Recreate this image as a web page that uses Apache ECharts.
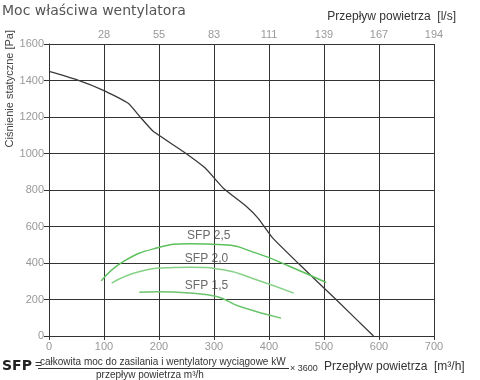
<!DOCTYPE html>
<html><head><meta charset="utf-8">
<script src="https://cdn.jsdelivr.net/npm/echarts@6/dist/echarts.min.js"></script>
<style>html,body{margin:0;padding:0;background:#fff}#c{width:480px;height:380px}</style>
</head><body><div id="c"></div>
<script>
// Data (x: m³/h, y: Pa)
const fanQ = [0, 50, 100, 144, 165, 190, 244, 284, 317, 359, 380, 407, 456, 520, 590];
const fanP = [1450, 1405, 1345, 1275, 1203, 1120, 1011, 920, 810, 710, 646, 536, 390, 205, 0];
const sfp25Q = [95, 135, 196, 256, 317, 377, 438, 504];
const sfp25P = [302, 408, 482, 505, 500, 454, 381, 293];
const sfp20Q = [114, 165, 226, 256, 317, 377, 445];
const sfp20P = [290, 353, 375, 377, 363, 308, 235];
const sfp15Q = [164, 196, 256, 305, 347, 422];
const sfp15P = [240, 242, 235, 216, 162, 98];
const sfpNames = ['SFP 2,5', 'SFP 2,0', 'SFP 1,5'];
const sfpLabelQ = [251, 247, 247];
const sfpLabelP = [551, 421, 277];
const topTickLabels = ['', '28', '55', '83', '111', '139', '167', '194'];

const zip = (a, b) => a.map((v, i) => [v, b[i]]);
const F = '"Liberation Sans Narrow","Liberation Sans",Arial,sans-serif';
const chart = echarts.init(document.getElementById('c'));
chart.setOption({
  animation: false,
  grid: { left: 49, right: 46, top: 44, bottom: 44 },
  xAxis: [{
    type: 'value', min: 0, max: 700, interval: 100, position: 'bottom',
    axisLine: { show: true, lineStyle: { color: '#333' } },
    axisTick: { show: true, length: 4, lineStyle: { color: '#333' } },
    axisLabel: { color: '#999', fontFamily: F, fontSize: 11, margin: 5, formatter: (v) => String(v) },
    splitLine: { show: true, lineStyle: { color: '#333', width: 1 } }
  }, {
    type: 'value', min: 0, max: 700, interval: 100, position: 'top',
    axisLine: { show: false }, axisTick: { show: false },
    axisLabel: { color: '#999', fontFamily: F, fontSize: 11, margin: 4,
      formatter: (v) => topTickLabels[Math.round(v / 100)] },
    splitLine: { show: false }
  }],
  yAxis: {
    type: 'value', min: 0, max: 1600, interval: 200,
    axisLine: { show: true, lineStyle: { color: '#333' } },
    axisTick: { show: true, length: 5, lineStyle: { color: '#333' } },
    axisLabel: { color: '#999', fontFamily: F, fontSize: 11, margin: 5, formatter: (v) => String(v) },
    splitLine: { show: true, lineStyle: { color: '#333', width: 1 } }
  },
  series: [
    { type: 'line', data: zip(fanQ, fanP), smooth: 0.15, symbol: 'none',
      lineStyle: { color: '#3a3a3a', width: 1.3 } },
    { type: 'line', data: zip(sfp25Q, sfp25P), smooth: true, symbol: 'none',
      lineStyle: { color: '#5cc05c', width: 1.5 } },
    { type: 'line', data: zip(sfp20Q, sfp20P), smooth: true, symbol: 'none',
      lineStyle: { color: '#85d185', width: 1.5 } },
    { type: 'line', data: zip(sfp15Q, sfp15P), smooth: true, symbol: 'none',
      lineStyle: { color: '#6cc46c', width: 1.5 } },
    { type: 'scatter', symbolSize: 0, silent: true,
      data: sfpNames.map((n, i) => ({ name: n, value: [sfpLabelQ[i], sfpLabelP[i]] })),
      label: { show: true, position: 'right', distance: 0, formatter: '{b}',
        color: '#444', fontFamily: F, fontSize: 12 } }
  ],
  graphic: [
    { type: 'text', left: 2, top: 4, style: { text: 'Moc właściwa wentylatora', fill: '#555',
      font: '14px "DejaVu Sans", Verdana, sans-serif' } },
    { type: 'text', right: 24, top: 11, style: { text: 'Przepływ powietrza  [l/s]', fill: '#333',
      font: '12px ' + F } },
    { type: 'text', x: 4, y: 30, rotation: Math.PI / 2,
      style: { text: 'Ciśnienie statyczne [Pa]', fill: '#444', font: '11px ' + F,
        textAlign: 'right', textVerticalAlign: 'top' } },
    { type: 'text', x: 2, y: 359, style: { text: 'SFP', fill: '#222',
      font: 'bold 14px "DejaVu Sans", Verdana, sans-serif' } },
    { type: 'text', x: 35, y: 359, style: { text: '=', fill: '#333', font: '12px ' + F } },
    { type: 'text', x: 40, y: 357, style: { text: 'całkowita moc do zasilania i wentylatory wyciągowe kW',
      fill: '#333', font: '10px ' + F } },
    { type: 'line', shape: { x1: 38, y1: 368.5, x2: 289, y2: 368.5 }, style: { stroke: '#333', lineWidth: 1 } },
    { type: 'text', x: 96, y: 370, style: { text: 'przepływ powietrza m³/h', fill: '#333', font: '10px ' + F } },
    { type: 'text', x: 290, y: 364, style: { text: '× 3600', fill: '#333', font: '9px ' + F } },
    { type: 'text', x: 324, y: 361, style: { text: 'Przepływ powietrza  [m³/h]', fill: '#333', font: '12px ' + F } }
  ]
});
</script></body></html>
